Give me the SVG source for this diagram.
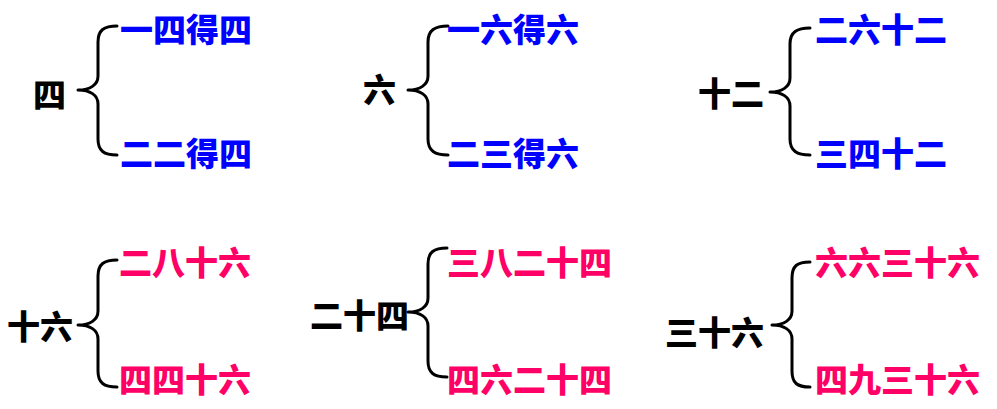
<svg xmlns="http://www.w3.org/2000/svg" width="997" height="409" viewBox="0 0 997 409">
<style>
text{font-family:"Noto Sans CJK SC","Noto Sans CJK JP",sans-serif;font-weight:900;font-size:33px;dominant-baseline:central}
.k{fill:#000}
.b{fill:#0000FF}
.p{fill:#FF0066}
.br{fill:none;stroke:#000;stroke-width:3;stroke-linecap:round;stroke-linejoin:round}
</style>
<rect width="997" height="409" fill="#fff"/>
<g id="connectors">
<path class="br" d="M117,26 C104,26 98,30 98,42 L98,76 C98,85 90,90 78,90 C90,90 98,95 98,104 L98,139 C98,151 104,155 117,155"/>
<path class="br" d="M448,26 C435,26 428,30 428,42 L428,76 C428,85 420,90 408,90 C420,90 428,95 428,104 L428,139 C428,151 435,155 448,155"/>
<path class="br" d="M810,28 C797,28 790,32 790,44 L790,78 C790,87 782,92 770,92 C782,92 790,97 790,106 L790,139 C790,151 797,155 810,155"/>
<path class="br" d="M117,260 C104,260 98,264 98,276 L98,311 C98,320 90,325 78,325 C90,325 98,330 98,339 L98,371 C98,383 104,387 117,387"/>
<path class="br" d="M447,248 C434,248 428,252 428,264 L428,298 C428,307 420,312 408,312 C420,312 428,317 428,326 L428,361 C428,373 434,377 447,377"/>
<path class="br" d="M810,262 C797,262 792,266 792,278 L792,311 C792,320 784,325 772,325 C784,325 792,330 792,339 L792,371 C792,383 797,387 810,387"/>
</g>
<g id="n-si"><text class="k" x="33" y="93">四</text></g>
<g id="n-si-1"><text class="b" x="120" y="28">一四得四</text></g>
<g id="n-si-2"><text class="b" x="120" y="152">二二得四</text></g>
<g id="n-liu"><text class="k" x="363" y="88">六</text></g>
<g id="n-liu-1"><text class="b" x="447" y="28">一六得六</text></g>
<g id="n-liu-2"><text class="b" x="447" y="152">二三得六</text></g>
<g id="n-shier"><text class="k" x="698" y="92">十二</text></g>
<g id="n-shier-1"><text class="b" x="815" y="28">二六十二</text></g>
<g id="n-shier-2"><text class="b" x="815" y="152">三四十二</text></g>
<g id="n-shiliu"><text class="k" x="7" y="325">十六</text></g>
<g id="n-shiliu-1"><text class="p" x="119" y="261">二八十六</text></g>
<g id="n-shiliu-2"><text class="p" x="119" y="378">四四十六</text></g>
<g id="n-ershisi"><text class="k" x="310" y="314">二十四</text></g>
<g id="n-ershisi-1"><text class="p" x="447" y="261">三八二十四</text></g>
<g id="n-ershisi-2"><text class="p" x="447" y="378">四六二十四</text></g>
<g id="n-sanshiliu"><text class="k" x="665" y="331">三十六</text></g>
<g id="n-sanshiliu-1"><text class="p" x="815" y="261">六六三十六</text></g>
<g id="n-sanshiliu-2"><text class="p" x="815" y="378">四九三十六</text></g>
</svg>
